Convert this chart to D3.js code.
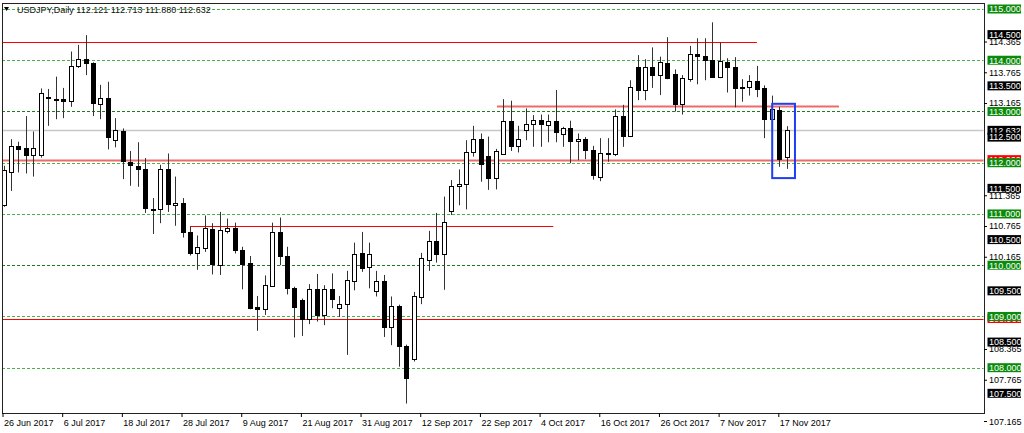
<!DOCTYPE html>
<html><head><meta charset="utf-8">
<script src="https://cdn.jsdelivr.net/npm/d3@7"></script>
<style>
body{margin:0;background:#fff}
svg{display:block;font-family:"Liberation Sans",Arial,sans-serif}
</style>
</head><body>
<svg id="c" width="1024" height="433"></svg>
<script>
// ---------- data ----------
const title = "USDJPY,Daily 112.121 112.713 111.880 112.632";
const opens  = [111.18,111.81,112.33,112.28,112.16,112.15,113.28,113.24,113.24,113.20,113.88,114.02,113.94,113.15,113.26,112.44,112.61,112.02,111.94,111.87,111.09,111.09,111.88,111.17,111.22,110.64,110.23,110.33,110.70,110.00,110.67,110.73,110.30,110.04,109.19,109.14,109.59,110.65,110.18,109.56,109.33,108.96,109.54,109.03,109.54,109.16,109.24,109.69,110.24,109.96,109.50,109.69,108.79,109.21,108.43,108.17,109.37,110.11,110.48,110.21,111.06,111.54,111.58,112.20,112.46,112.14,111.71,112.18,112.82,112.33,112.63,112.75,112.84,112.73,112.81,112.56,112.67,112.42,112.47,112.25,111.73,112.19,112.18,112.91,112.53,113.86,113.42,113.87,113.72,113.95,113.74,113.14,113.64,114.12,114.08,114.00,113.67,113.97,113.86,113.47,113.47,113.60,113.45,112.85,113.03,112.121];
const highs  = [111.94,112.46,112.41,112.91,112.61,113.45,113.44,113.68,113.46,114.17,114.30,114.49,113.96,113.52,113.58,112.87,112.67,112.23,112.40,112.09,111.31,111.96,112.18,111.73,111.31,110.75,110.58,110.97,110.82,111.04,110.91,110.83,110.36,110.18,109.40,109.80,110.83,110.93,110.36,109.58,109.35,109.63,109.83,109.61,109.84,109.40,109.89,110.44,110.65,110.44,109.89,109.81,109.39,109.23,108.45,109.48,110.24,110.67,111.02,111.34,111.66,111.87,112.44,112.72,112.57,112.51,112.27,113.24,113.21,112.72,113.06,112.93,112.94,112.94,113.42,112.70,112.82,112.57,112.50,112.33,112.48,112.48,113.04,113.13,113.61,114.10,114.02,114.25,114.07,114.45,113.82,113.71,114.28,114.43,114.43,114.74,114.35,114.04,114.06,113.63,113.71,113.89,113.51,113.31,113.09,112.713];
const lows   = [111.14,111.45,111.81,111.79,111.73,112.10,112.72,112.85,112.87,113.09,113.85,113.71,112.91,112.85,112.26,112.30,111.68,111.55,111.53,111.02,110.61,110.82,111.04,110.77,110.54,110.19,109.91,110.26,109.82,109.81,110.62,110.23,109.53,109.14,108.72,109.03,109.58,110.00,109.43,108.59,108.62,108.85,108.90,108.83,109.16,108.99,108.25,109.51,109.87,109.55,109.39,108.60,108.44,108.02,107.30,108.12,109.24,109.89,110.05,109.52,110.98,111.17,111.09,112.12,111.63,111.47,111.48,112.17,112.23,112.20,112.44,112.31,112.31,112.40,112.40,112.31,111.99,112.05,112.07,111.67,111.64,112.02,112.13,112.31,112.50,113.22,113.22,113.46,113.32,113.63,113.00,112.94,113.58,113.53,113.61,113.66,113.65,113.37,113.08,113.19,113.31,113.28,112.48,112.83,111.92,111.880];
const closes = [111.86,112.33,112.27,112.16,112.29,113.37,113.26,113.22,113.20,113.89,114.02,113.94,113.17,113.26,112.51,112.63,112.04,111.96,111.87,111.11,111.07,111.87,111.20,111.22,110.64,110.23,110.35,110.72,110.02,110.69,110.73,110.30,110.02,109.16,109.15,109.61,110.65,110.18,109.56,109.18,108.96,109.54,109.03,109.54,109.34,109.24,109.72,110.22,109.94,110.22,109.69,108.79,109.21,108.43,107.80,109.39,110.15,110.47,110.21,110.84,111.54,111.58,112.21,112.46,111.97,111.71,112.23,112.82,112.33,112.47,112.75,112.84,112.75,112.81,112.59,112.67,112.42,112.47,112.25,111.77,112.19,112.17,112.91,112.53,113.48,113.42,113.87,113.72,113.97,113.65,113.14,113.65,114.12,114.08,114.00,113.68,113.99,113.86,113.45,113.45,113.60,113.44,112.85,113.04,112.07,112.632];

const tickBars   = [0,8,16,24,32,40,48,56,64,72,80,88,96,104];
const tickLabels = ["26 Jun 2017","6 Jul 2017","18 Jul 2017","28 Jul 2017","9 Aug 2017","21 Aug 2017","31 Aug 2017","12 Sep 2017","22 Sep 2017","4 Oct 2017","16 Oct 2017","26 Oct 2017","7 Nov 2017","17 Nov 2017"];

const roundLevels = [115,114,113,112,111,110,109,108];
const darkLevels  = [113,110];
const halfLevels  = [114.5,113.5,112.5,111.5,110.5,109.5,108.5,107.5];
const scaleLabels = [114.365,113.765,113.165,111.365,110.765,110.165,108.365,107.765];
const bottomLabel = 107.165;

const redPrices = [114.35,113.11,112.06,110.77,108.96];
const redStart  = [-2,66.15,-2,25.0,-2];
const redEnd    = [101.0,112.0,140,73.7,140];
const redHeavy  = [false,true,true,false,false];
const redLabelPrices = [112.06,108.96];

const bidPrice = 112.632;
const boxBars   = [103.05,106.1];
const boxPrices = [113.15,111.70];

// ---------- layout ----------
const L=2, R=984, T=3, B=413;
const svg = d3.select("#c");
svg.append("rect").attr("width",1024).attr("height",433).attr("fill","#fff");

const x = d3.scaleLinear().domain([0,104]).range([3.5,779.3]);
const y = d3.scaleLinear().domain([108,115]).range([367.7,9]);

svg.append("defs").append("clipPath").attr("id","plot")
  .append("rect").attr("x",L+0.5).attr("y",T+0.5).attr("width",R-L-1).attr("height",B-T-1);
const g = svg.append("g").attr("clip-path","url(#plot)");

const cr = v => Math.round(v)+0.5;

// green dashed round levels
g.selectAll("line.lvl").data(roundLevels).join("line")
  .attr("x1",L).attr("x2",R)
  .attr("y1",d=>cr(y(d))).attr("y2",d=>cr(y(d)))
  .attr("stroke",d=>darkLevels.includes(d)?"#1e7b1e":"#4cae4c")
  .attr("stroke-width",1).attr("stroke-dasharray","3,2");

// bid line
g.append("line").attr("x1",L).attr("x2",R)
  .attr("y1",cr(y(bidPrice))).attr("y2",cr(y(bidPrice)))
  .attr("stroke","#c8c8c8").attr("stroke-width",1.5);

// red levels
g.selectAll("line.red").data(redPrices).join("line")
  .attr("x1",(d,i)=>x(redStart[i])).attr("x2",(d,i)=>x(redEnd[i]))
  .attr("y1",d=>cr(y(d))).attr("y2",d=>cr(y(d)))
  .attr("stroke",(d,i)=>redHeavy[i]?"#f06a6a":"#ff0000")
  .attr("stroke-width",(d,i)=>redHeavy[i]?2:1.2);

// candles
const idx = d3.range(opens.length);
const cg = g.append("g");
cg.selectAll("line.wick").data(idx).join("line")
  .attr("x1",i=>Math.round(x(i))+0.5).attr("x2",i=>Math.round(x(i))+0.5)
  .attr("y1",i=>y(highs[i])).attr("y2",i=>y(lows[i]))
  .attr("stroke","#333").attr("stroke-width",1);
cg.selectAll("rect.body").data(idx).join("rect")
  .each(function(i){
    const up = closes[i]>=opens[i];
    const top = Math.round(y(Math.max(opens[i],closes[i])));
    const bot = Math.round(y(Math.min(opens[i],closes[i])));
    const cx = Math.round(x(i));
    const sel = d3.select(this);
    if(up){
      sel.attr("x",cx-1.5).attr("width",4)
         .attr("y",top+0.5).attr("height",Math.max(1,bot-top))
         .attr("fill","#fff").attr("stroke","#000").attr("stroke-width",1);
    } else {
      sel.attr("x",cx-2).attr("width",5)
         .attr("y",top).attr("height",Math.max(1,bot-top+1))
         .attr("fill","#000");
    }
  });

// blue rectangle
g.append("rect")
  .attr("x",x(boxBars[0])).attr("y",y(boxPrices[0]))
  .attr("width",x(boxBars[1])-x(boxBars[0])).attr("height",y(boxPrices[1])-y(boxPrices[0]))
  .attr("fill","none").attr("stroke","#1d3ef2").attr("stroke-width",2);

// frame
svg.append("rect").attr("x",L+0.5).attr("y",T+0.5).attr("width",R-L).attr("height",B-T)
  .attr("fill","none").attr("stroke","#222").attr("stroke-width",1);

// title
svg.append("path").attr("d","M4,7 L9,7 L6.5,11 Z").attr("fill","#000");
svg.append("text").attr("x",17).attr("y",12.5).attr("font-size",9).attr("fill","#111").text(title);

// bottom axis
const xAxis = d3.axisBottom(x).tickValues(tickBars).tickFormat((d,i)=>tickLabels[i]).tickSize(4).tickSizeOuter(0);
const xg = svg.append("g").attr("transform",`translate(-1,${B})`).call(xAxis);
xg.select(".domain").remove();
xg.selectAll(".tick line").attr("stroke","#000");
xg.selectAll(".tick text").attr("text-anchor","start").attr("x",1).attr("dy",0).attr("y",13)
  .attr("font-size",9).attr("font-family","Liberation Sans, Arial, sans-serif").attr("fill","#000");

// right axis plain labels
const yAxis = d3.axisRight(y).tickValues(scaleLabels).tickFormat(d3.format(".3f")).tickSize(3).tickSizeOuter(0);
const yg = svg.append("g").attr("transform",`translate(${R},0)`).call(yAxis);
yg.select(".domain").remove();
yg.selectAll(".tick line").attr("stroke","#000");
yg.selectAll(".tick text").attr("x",5).attr("font-size",9)
  .attr("font-family","Liberation Sans, Arial, sans-serif").attr("fill","#000");
// bottom label (below plot)
svg.append("line").attr("x1",R).attr("x2",R+3).attr("y1",421.5).attr("y2",421.5).attr("stroke","#000");
svg.append("text").attr("x",R+5).attr("y",424.5).attr("font-size",9).attr("fill","#000").text(d3.format(".3f")(bottomLabel));

// boxed labels
function boxLabel(price, bg, fg){
  const yy = y(price);
  svg.append("rect").attr("x",987.5).attr("y",yy-4.5).attr("width",33.5).attr("height",9).attr("fill",bg);
  svg.append("text").attr("x",989).attr("y",yy+3.3).attr("font-size",9).attr("fill",fg).text(d3.format(".3f")(price));
}
redLabelPrices.forEach(p=>boxLabel(p,"#ff0000","#fff"));
boxLabel(bidPrice,"#000","#fff");
halfLevels.forEach(p=>boxLabel(p,"#000","#fff"));
roundLevels.forEach(p=>boxLabel(p,"#0b8a0b","#fff"));
</script>
</body></html>
